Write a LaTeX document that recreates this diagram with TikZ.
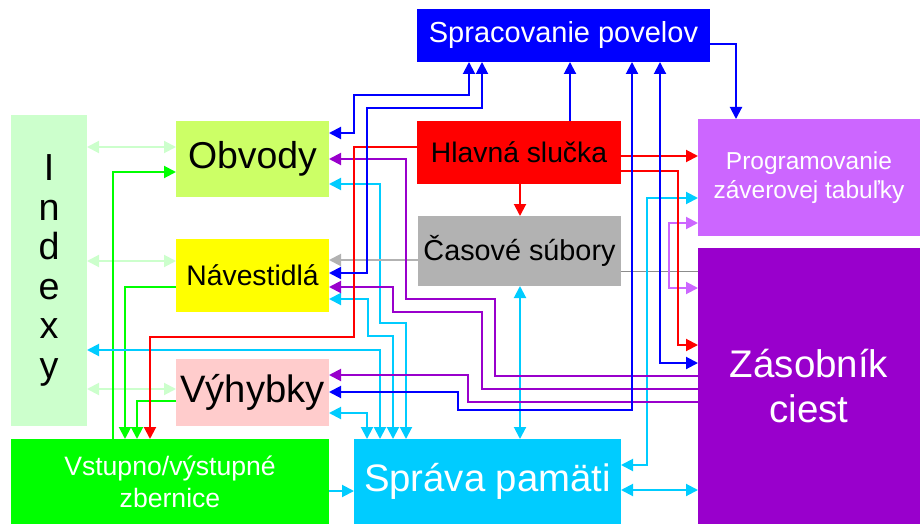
\documentclass[tikz,border=0pt]{standalone}
\usepackage{fontspec}
\setmainfont{Liberation Sans}
\usetikzlibrary{arrows.meta}
\definecolor{cBlue}{RGB}{0,0,255}
\definecolor{cRed}{RGB}{255,0,0}
\definecolor{cIdx}{RGB}{204,255,204}
\definecolor{cObv}{RGB}{204,255,102}
\definecolor{cProg}{RGB}{204,102,255}
\definecolor{cGray}{RGB}{178,178,178}
\definecolor{cYel}{RGB}{255,255,0}
\definecolor{cPurple}{RGB}{153,0,204}
\definecolor{cPink}{RGB}{255,204,204}
\definecolor{cGreen}{RGB}{0,255,0}
\definecolor{cCyan}{RGB}{0,204,255}
\definecolor{cThin}{RGB}{140,140,140}
\newcommand\myfs[2]{\fontsize{#1}{#2}\selectfont}
\tikzset{
  box/.style={rectangle, inner sep=0pt, outer sep=0pt, draw=none, align=center},
  conn/.style={line width=2pt},
}
\begin{document}
\begin{tikzpicture}[x=1pt,y=-1pt,>={Triangle[length=12pt,width=12pt]}]
\useasboundingbox (0,0) rectangle (920,524);
% boxes
\node[box, fill=cBlue, text=white, minimum width=293pt, minimum height=53pt, font=\myfs{29}{34}] (sprac) at (563.5,35.5) {Spracovanie povelov};
\node[box, fill=cIdx, minimum width=76pt, minimum height=311pt, font=\myfs{37.7}{39.6}] (indexy) at (49,270.5) {I\\n\\d\\e\\x\\y};
\node[box, fill=cObv, minimum width=153pt, minimum height=76pt, font=\myfs{37.4}{44}] (obvody) at (252.5,159) {Obvody};
\node[box, fill=cRed, minimum width=204pt, minimum height=63pt, font=\myfs{28.3}{34}] (hlavna) at (519,152.5) {Hlavná slučka};
\node[box, fill=cProg, text=white, minimum width=222pt, minimum height=117pt, font=\myfs{24.5}{29}] (prog) at (809,177.5) {Programovanie\\záverovej tabuľky};
\node[box, fill=cGray, minimum width=203pt, minimum height=70pt, font=\myfs{28.8}{34}] (casove) at (519.5,251) {Časové súbory};
\node[box, fill=cYel, minimum width=153pt, minimum height=73pt, font=\myfs{28.3}{34}] (navest) at (252.5,275.5) {Návestidlá};
\node[box, fill=cPurple, text=white, minimum width=222pt, minimum height=276pt, font=\myfs{38.5}{45}] (zasob) at (809,386) {Zásobník\\ciest};
\node[box, fill=cPink, minimum width=153pt, minimum height=67pt, font=\myfs{38.2}{44}] (vyhyb) at (252.5,392.5) {Výhybky};
\node[box, fill=cGreen, text=white, minimum width=318pt, minimum height=85pt, font=\myfs{26.6}{32}] (vstup) at (170,481.5) {Vstupno/výstupné\\zbernice};
\node[box, fill=cCyan, text=white, minimum width=267pt, minimum height=85pt, font=\myfs{38.3}{44}] (sprava) at (487.5,481.5) {Správa pamäti};

% thin gray line
\draw[cThin, line width=1pt] (casove.east |- 0,271) -- (zasob.west |- 0,271);

% light green
\draw[conn, cIdx, <->] (indexy.east |- 0,147) -- (obvody.west |- 0,147);
\draw[conn, cIdx, <->] (indexy.east |- 0,261) -- (navest.west |- 0,261);
\draw[conn, cIdx, <->] (indexy.east |- 0,389) -- (vyhyb.west |- 0,389);

% green
\draw[conn, cGreen, ->] (vstup.north -| 113,0) -- (113,172) -- (obvody.west |- 0,172);
\draw[conn, cGreen, ->] (navest.west |- 0,287) -- (125,287) -- (vstup.north -| 125,0);
\draw[conn, cGreen, ->] (vyhyb.west |- 0,401) -- (137,401) -- (vstup.north -| 137,0);

% cyan
\draw[conn, cCyan, <->] (obvody.east |- 0,184) -- (380,184) -- (380,323) -- (406,323) -- (sprava.north -| 406,0);
\draw[conn, cCyan, <->] (navest.east |- 0,299) -- (368,299) -- (368,336) -- (393,336) -- (sprava.north -| 393,0);
\draw[conn, cCyan, <->] (indexy.east |- 0,350) -- (380,350) -- (sprava.north -| 380,0);
\draw[conn, cCyan, <->] (vyhyb.east |- 0,413) -- (367,413) -- (sprava.north -| 367,0);
\draw[conn, cCyan, <->] (casove.south -| 520,0) -- (sprava.north -| 520,0);
\draw[conn, cCyan, <->] (prog.west |- 0,198) -- (647,198) -- (647,465) -- (sprava.east |- 0,465);
\draw[conn, cCyan, <->] (sprava.east |- 0,490) -- (zasob.west |- 0,490);
\draw[conn, cCyan, ->] (vstup.east |- 0,491) -- (sprava.west |- 0,491);

% gray
\draw[conn, cGray, ->] (casove.west |- 0,260) -- (navest.east |- 0,260);

% light purple
\draw[conn, cProg, <->] (prog.west |- 0,223) -- (669,223) -- (669,288) -- (zasob.west |- 0,288);

% purple
\draw[conn, cPurple, ->] (zasob.west |- 0,376) -- (495,376) -- (495,299) -- (406,299) -- (406,159) -- (obvody.east |- 0,159);
\draw[conn, cPurple, ->] (zasob.west |- 0,389) -- (482,389) -- (482,312) -- (393,312) -- (393,287) -- (navest.east |- 0,287);
\draw[conn, cPurple, ->] (zasob.west |- 0,402) -- (468,402) -- (468,375) -- (vyhyb.east |- 0,375);

% red
\draw[conn, cRed, ->] (hlavna.east |- 0,156) -- (prog.west |- 0,156);
\draw[conn, cRed, ->] (hlavna.east |- 0,171) -- (678,171) -- (678,345) -- (zasob.west |- 0,345);
\draw[conn, cRed, ->] (hlavna.south -| 520,0) -- (casove.north -| 520,0);
\draw[conn, cRed, ->] (hlavna.west |- 0,147) -- (354,147) -- (354,337) -- (150,337) -- (vstup.north -| 150,0);

% blue
\draw[conn, cBlue, <->] (sprac.south -| 469,0) -- (469,95) -- (354,95) -- (354,133) -- (obvody.east |- 0,133);
\draw[conn, cBlue, <->] (sprac.south -| 482,0) -- (482,108) -- (367,108) -- (367,273) -- (navest.east |- 0,273);
\draw[conn, cBlue, ->] (hlavna.north -| 570,0) -- (sprac.south -| 570,0);
\draw[conn, cBlue, ->] (sprac.east |- 0,44) -- (736,44) -- (prog.north -| 736,0);
\draw[conn, cBlue, <->] (sprac.south -| 632,0) -- (632,410) -- (458,410) -- (458,392) -- (vyhyb.east |- 0,392);
\draw[conn, cBlue, <->] (sprac.south -| 660,0) -- (660,363) -- (zasob.west |- 0,363);
\end{tikzpicture}
\end{document}
